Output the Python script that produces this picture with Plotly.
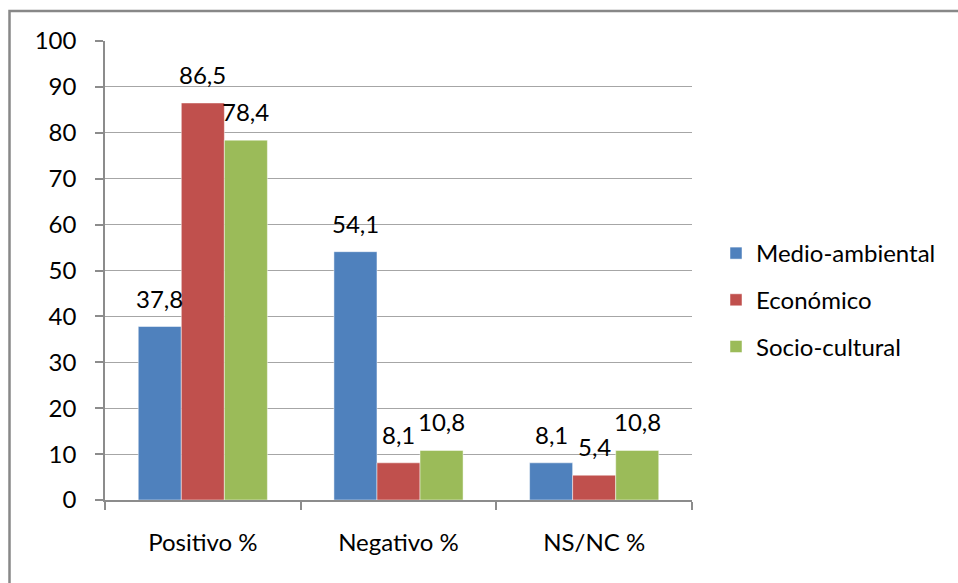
import plotly.graph_objects as go

categories = ["Positivo %", "Negativo %", "NS/NC %"]
series_names = ["Medio-ambiental", "Económico", "Socio-cultural"]
medio_ambiental = [37.8, 54.1, 8.1]
economico = [86.5, 8.1, 5.4]
socio_cultural = [78.4, 10.8, 10.8]
y_ticks = list(range(0, 101, 10))

colors = ["#4F81BD", "#C0504D", "#9BBB59"]
FONT = "Lato"
FS = 24

W, H = 958, 583
L, R, T, B = 105, 266, 41, 83
pw, ph = W - L - R, H - T - B
BARGAP = 0.34
bar_px = pw / len(categories) * (1 - BARGAP) / len(series_names)

def px_x(px):
    return (px - L) / pw

def px_y(py):
    return (H - B - py) / ph

fig = go.Figure()
annotations = []
all_series = [medio_ambiental, economico, socio_cultural]
for i, (name, vals) in enumerate(zip(series_names, all_series)):
    fig.add_trace(go.Bar(
        x=categories, y=vals, name=name,
        marker=dict(color=colors[i], line=dict(color="rgba(255,255,255,0.6)", width=0.8)),
        legendgroup=f"g{i}",
    ))
    # value labels sit a little higher above each bar
    for cat, v in zip(categories, vals):
        annotations.append(dict(
            x=cat, y=v, xref="x", yref="y",
            text=f"{v:.1f}".replace(".", ","), showarrow=False,
            xanchor="center", yanchor="bottom",
            xshift=(i - 1) * bar_px, yshift=12,
            font=dict(family=FONT, size=FS, color="#000000"),
        ))

fig.update_layout(
    width=W, height=H,
    margin=dict(l=L, r=R, t=T, b=B),
    paper_bgcolor="white", plot_bgcolor="white",
    separators=",.",
    barmode="group", bargap=BARGAP, bargroupgap=0,
    font=dict(family=FONT, size=FS, color="#000000"),
    showlegend=True,
    legend=dict(
        x=px_x(716), y=px_y(231), xanchor="left", yanchor="top",
        font=dict(family=FONT, size=FS, color="#000000"),
        traceorder="grouped", tracegroupgap=12.5,
        bgcolor="rgba(0,0,0,0)", itemwidth=30,
    ),
    xaxis=dict(
        showline=True, linecolor="#8c8c8c", linewidth=1.5,
        ticks="outside", tickson="boundaries", ticklen=8,
        tickcolor="#8c8c8c", tickwidth=1.5,
        showgrid=False, ticklabelstandoff=20,
        tickfont=dict(family=FONT, size=FS),
    ),
    yaxis=dict(
        range=[0, 100], tickvals=y_ticks,
        showline=True, linecolor="#8c8c8c", linewidth=1.5,
        ticks="outside", ticklen=8, tickcolor="#8c8c8c", tickwidth=1.5,
        showgrid=True, gridcolor="#a6a6a6", gridwidth=1.3,
        zeroline=False, ticklabelstandoff=14,
        tickfont=dict(family=FONT, size=FS),
    ),
    annotations=annotations,
    shapes=[dict(
        type="rect", xref="paper", yref="paper",
        x0=px_x(9.5), x1=px_x(975), y0=px_y(600), y1=px_y(11),
        line=dict(color="#888888", width=2.5), fillcolor="rgba(0,0,0,0)",
        layer="below",
    )],
)

fig.write_html("out.html")
